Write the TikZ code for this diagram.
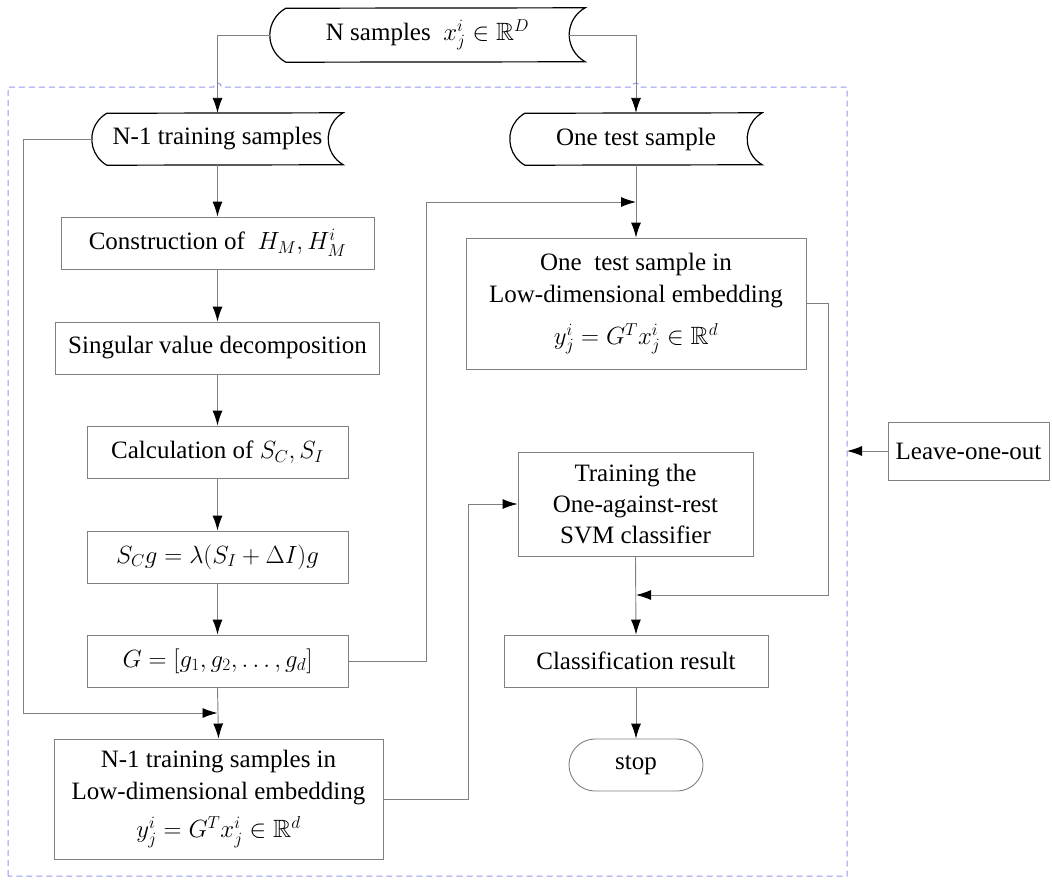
\documentclass[tikz,border=0pt]{standalone}
\usepackage{amssymb}
\usepackage[no-math]{fontspec}
\setmainfont{Liberation Serif}
\usetikzlibrary{arrows.meta}
\definecolor{linegray}{RGB}{128,128,128}
\definecolor{dashblue}{RGB}{150,150,238}
\begin{document}
\begin{tikzpicture}[x=1pt,y=-1pt,
  every node/.style={font=\fontsize{25}{32}\selectfont, inner sep=0pt, align=center},
  box/.style={draw=linegray, line width=0.9pt, fill=white},
  sdnode/.style={draw=none},
  sdline/.style={draw=black, line width=1.2pt, line join=miter},
  conn/.style={draw=linegray, line width=0.9pt, -{Latex[length=15pt,width=10pt,color=black]}},
  frame/.style={draw=dashblue, line width=1pt, dash pattern=on 6pt off 4pt}]
\useasboundingbox (0,0) rectangle (1052,879);

% dashed frame
\draw[frame] (8,876) -- (8,87) -- (213.5,87) arc[start angle=180,end angle=0,radius=4pt]
  -- (632,87) arc[start angle=180,end angle=0,radius=4pt] -- (847,87) -- (847,876) -- cycle;

% stored data nodes
\node[sdnode, minimum width=315pt, minimum height=54pt] (top) at (427.5,35) {N samples~ $x_j^i \in \mathbb{R}^D$};
\node[sdnode, minimum width=251pt, minimum height=52pt] (trn) at (217.5,139) {N-1 training samples};
\node[sdnode, minimum width=252pt, minimum height=52pt] (tst) at (636,139) {One test sample};
\foreach \n/\R/\a/\d in {top/30.8pt/61.2/16pt,trn/30pt/60/15pt,tst/30pt/60/15pt} {
  \draw[sdline] ([xshift=\d]\n.south west) arc[start angle=180+\a,end angle=180-\a,radius=\R]
    -- (\n.north east) arc[start angle=180-\a,end angle=180+\a,radius=\R] -- cycle;
}

% left column
\node[box, minimum width=313pt, minimum height=52pt] (c1) at (217.5,243) {Construction of~ $H_M, H_M^i$};
\node[box, minimum width=324pt, minimum height=52pt] (c2) at (217.5,348) {Singular value decomposition};
\node[box, minimum width=261pt, minimum height=52pt] (c3) at (217.5,452) {Calculation of~$S_C, S_I$};
\node[box, minimum width=261pt, minimum height=52pt] (c4) at (217.5,557) {$S_C g = \lambda(S_I + \Delta I)g$};
\node[box, minimum width=261pt, minimum height=52pt] (c5) at (217.5,661) {$G = [g_1, g_2, \ldots, g_d]$};
\node[box, minimum width=329pt, minimum height=120pt] (c6) at (218.5,799) {N-1 training samples in\\Low-dimensional embedding\\[6pt]$y_j^i = G^T x_j^i \in \mathbb{R}^d$};

% right column
\node[box, minimum width=340pt, minimum height=131pt] (t1) at (636,303.5) {One~ test sample in\\Low-dimensional embedding\\[10pt]$y_j^i = G^T x_j^i \in \mathbb{R}^d$};
\node[box, minimum width=235pt, minimum height=104pt, font=\fontsize{25}{31}\selectfont] (t2) at (635.5,504) {Training the\\One-against-rest\\SVM classifier};
\node[box, minimum width=264pt, minimum height=52pt] (t3) at (636,661) {Classification result};
\node[box, minimum width=134pt, minimum height=52pt, rounded corners=26pt] (stop) at (636,765) {stop};
\node[box, minimum width=161pt, minimum height=58pt] (leave) at (968.5,451) {Leave-one-out};

% junction coordinates
\coordinate (j1) at (217.5,713);
\coordinate (j2) at (636,202);
\coordinate (j3) at (636,595);
\coordinate (lb) at (847,451);

% connectors
\draw[conn] (top.west) -| (trn.north);
\draw[conn] ([xshift=-16pt]top.east) -| (tst.north);
\draw[conn] (trn.west) -- ++(-68,0) |- (j1);
\draw[conn] (trn.south) -- (c1.north);
\draw[conn] (c1.south) -- (c2.north);
\draw[conn] (c2.south) -- (c3.north);
\draw[conn] (c3.south) -- (c4.north);
\draw[conn] (c4.south) -- (c5.north);
\draw[conn] (c5.south) -- (c6.north);
\draw[conn] (c5.east) -| (426,202) -- (j2);
\draw[conn] (tst.south) -- (t1.north);
\draw[conn] (t1.east) -- ++(22,0) |- (j3);
\draw[conn] (c6.east) -- ++(85,0) |- (t2.west);
\draw[conn] (t2.south) -- (t3.north);
\draw[conn] (t3.south) -- (stop.north);
\draw[conn] (leave.west) -- (lb);
\end{tikzpicture}
\end{document}
